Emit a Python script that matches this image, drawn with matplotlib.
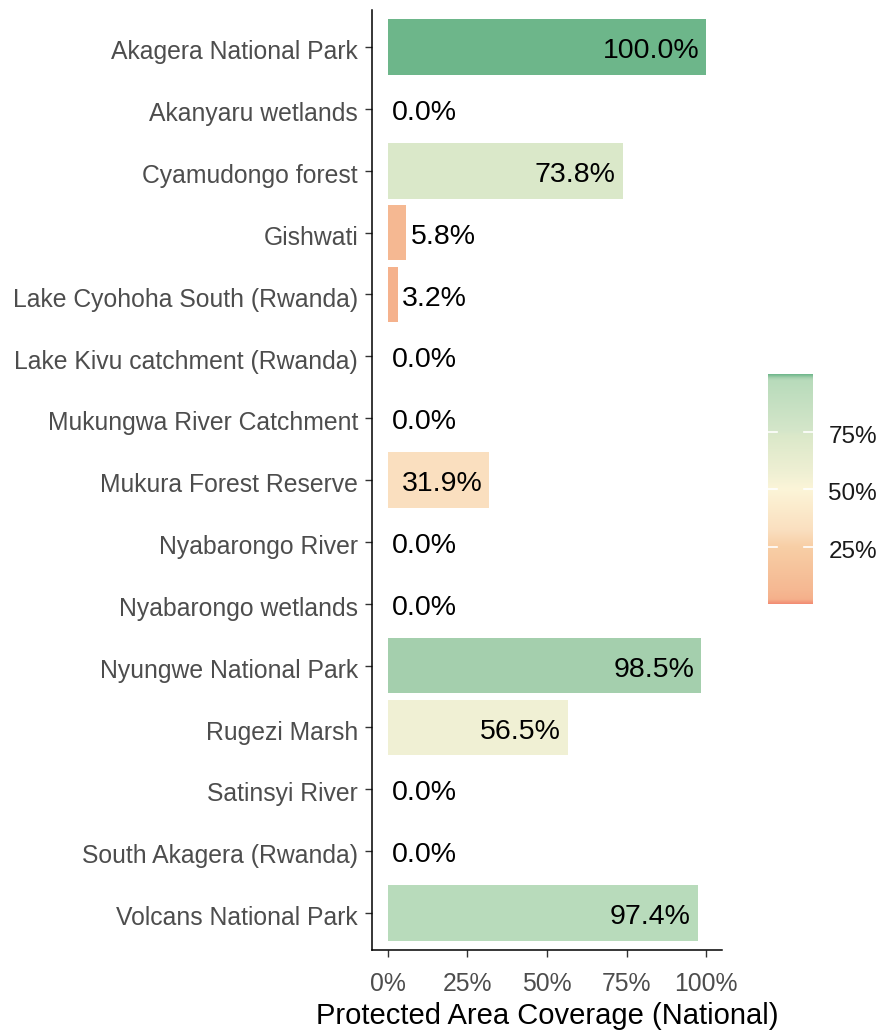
import numpy as np
import matplotlib.pyplot as plt
from matplotlib.colors import LinearSegmentedColormap
from matplotlib.transforms import ScaledTranslation

''' protected area coverage by site, horizontal bars coloured by coverage'''

sites = ['Akagera National Park', 'Akanyaru wetlands', 'Cyamudongo forest',
         'Gishwati', 'Lake Cyohoha South (Rwanda)', 'Lake Kivu catchment (Rwanda)',
         'Mukungwa River Catchment', 'Mukura Forest Reserve', 'Nyabarongo River',
         'Nyabarongo wetlands', 'Nyungwe National Park', 'Rugezi Marsh',
         'Satinsyi River', 'South Akagera (Rwanda)', 'Volcans National Park']
coverage = [100.0, 0.0, 73.8, 5.8, 3.2, 0.0, 0.0, 31.9, 0.0, 0.0, 98.5, 56.5, 0.0, 0.0, 97.4]

x_ticks = [0, 25, 50, 75, 100]
cbar_ticks = [25, 50, 75]

# colour stops
cmap_pos = [0.0, 0.02, 0.06, 0.25, 0.32, 0.50, 0.565, 0.738, 0.75, 0.974, 0.985, 1.0]
cmap_col = ['#F28B73', '#F5B08B', '#F5B892', '#F8CFA6', '#FADFBF', '#FCF5D8',
            '#F0F0D4', '#DAE8C9', '#D5E6CA', '#B8DBBB', '#A5D0AE', '#6DB68A']
cmap = LinearSegmentedColormap.from_list('cov', list(zip(cmap_pos, cmap_col)), N=2048)

plt.rcParams['font.family'] = ['Liberation Sans', 'DejaVu Sans']

fig = plt.figure(figsize=(8.81, 10.31), dpi=100)
ax = fig.add_axes([372 / 881, 81 / 1031, 350 / 881, 940 / 1031])

y = np.arange(len(sites))
vals = np.array(coverage)
ax.barh(y, vals, height=0.9, color=cmap(vals / 100.0), edgecolor='none')

for yi, v in zip(y, vals):
    lab = '%.1f%%' % v
    if v > 20:
        ax.annotate(lab, (v, yi), xytext=(-5, -3), textcoords='offset points',
                    ha='right', va='center', fontsize=20.5, color='black')
    else:
        ax.annotate(lab, (v, yi), xytext=(3, -3), textcoords='offset points',
                    ha='left', va='center', fontsize=20.5, color='black')

ax.set_xlim(-5, 105)
ax.set_ylim(len(sites) - 1 + 0.6, -0.6)
ax.set_yticks(y)
ax.set_yticklabels(sites)
ax.set_xticks(x_ticks)
ax.set_xticklabels(['%d%%' % t for t in x_ticks])
ax.tick_params(axis='both', labelsize=17.8, labelcolor='#4D4D4D', length=5,
               width=1.0, color='#333333')
ax.tick_params(axis='y', pad=5)
ax.tick_params(axis='x', pad=10.5)
shift = ScaledTranslation(0, -2 / 72, fig.dpi_scale_trans)
for lab in ax.get_yticklabels():
    lab.set_transform(lab.get_transform() + shift)
for s in ['top', 'right']:
    ax.spines[s].set_visible(False)
for s in ['left', 'bottom']:
    ax.spines[s].set_linewidth(1.1)
ax.set_xlabel('Protected Area Coverage (National)', fontsize=21, color='black', labelpad=4.5)

# colour bar legend
cax = fig.add_axes([768 / 881, 427 / 1031, 45 / 881, 230 / 1031])
grad = np.linspace(0, 100, 512).reshape(-1, 1)
cax.imshow(grad, aspect='auto', cmap=cmap, origin='lower', extent=[0, 1, 0, 100],
           vmin=0, vmax=100)
for t in cbar_ticks:
    cax.plot([0, 0.2], [t, t], color='white', lw=1.2)
    cax.plot([0.8, 1], [t, t], color='white', lw=1.2)
cax.set_xlim(0, 1)
cax.set_ylim(0, 100)
cax.set_xticks([])
cax.yaxis.tick_right()
cax.set_yticks(cbar_ticks)
cax.set_yticklabels(['%d%%' % t for t in cbar_ticks])
cax.tick_params(axis='y', length=0, pad=11, labelsize=17.5, labelcolor='#1A1A1A')
for lab in cax.get_yticklabels():
    lab.set_transform(lab.get_transform() + shift)
for s in cax.spines.values():
    s.set_visible(False)

fig.savefig('out.png', dpi=100)
